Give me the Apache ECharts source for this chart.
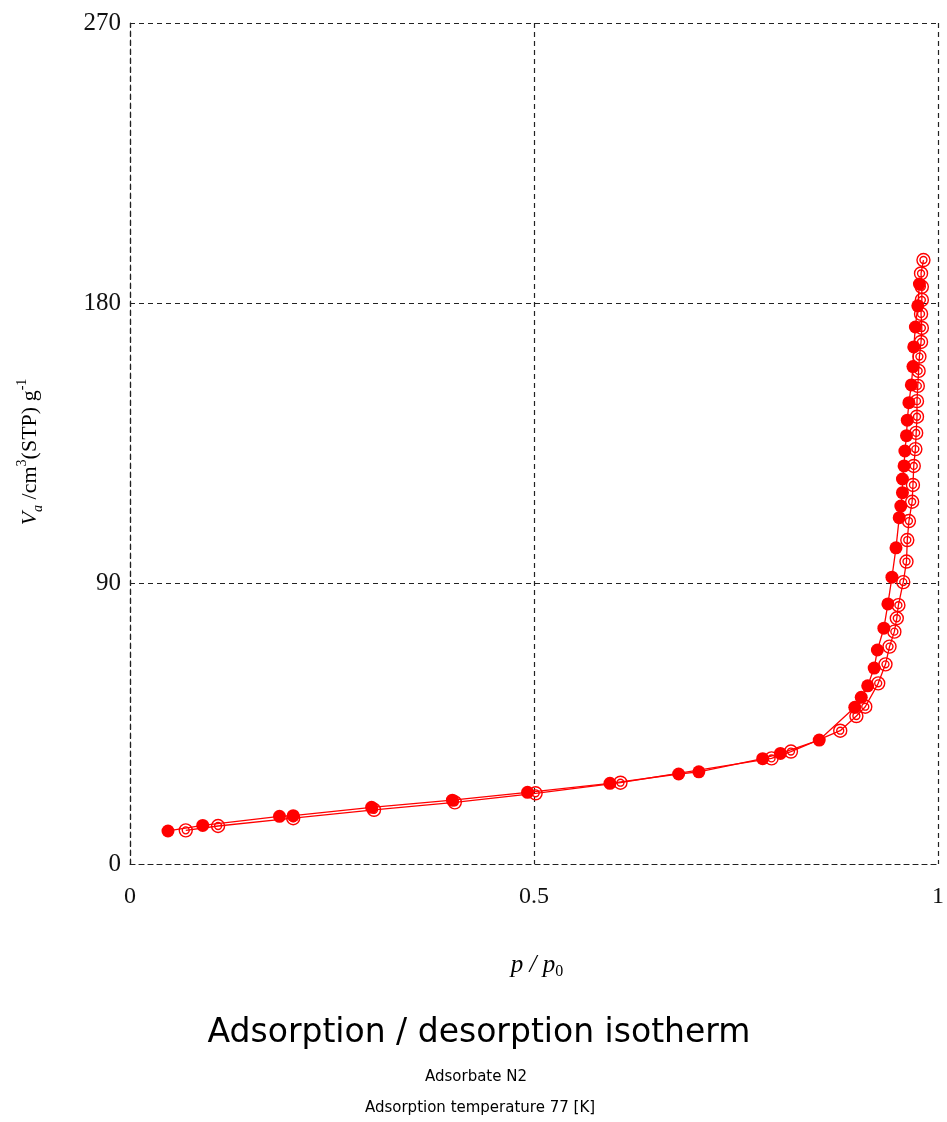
<!DOCTYPE html>
<html>
<head>
<meta charset="utf-8">
<script src="https://cdn.jsdelivr.net/npm/echarts@6/dist/echarts.min.js"></script>
<style>
html,body{margin:0;padding:0;background:#fff;}
#c{width:947px;height:1122px;}
</style>
</head>
<body>
<div id="c"></div>
<script>
// Adsorption branch (filled circles): relative pressure p/p0 and volume Va
var adsP = [0.047,0.090,0.185,0.202,0.299,0.399,0.492,0.594,0.679,0.704,0.783,0.805,0.853,0.897,0.905,0.913,0.921,0.925,0.933,0.938,0.943,0.948,0.952,0.954,0.956,0.956,0.958,0.959,0.961,0.962,0.964,0.967,0.969,0.970,0.972,0.975,0.977];
var adsV = [10.6,12.4,15.3,15.5,18.2,20.5,23.0,25.9,28.9,29.6,33.8,35.5,39.8,50.3,53.5,57.2,62.9,68.7,75.7,83.5,92.1,101.5,111.2,114.9,119.2,123.6,127.8,132.6,137.5,142.5,148.1,153.8,159.7,166.0,172.4,179.2,186.2];
// Desorption branch (double open circles), from high to low pressure
var desP = [0.982,0.979,0.980,0.980,0.979,0.980,0.979,0.977,0.976,0.975,0.974,0.974,0.973,0.972,0.970,0.969,0.968,0.964,0.962,0.961,0.957,0.951,0.949,0.946,0.940,0.935,0.926,0.910,0.899,0.879,0.818,0.794,0.607,0.502,0.402,0.302,0.202,0.109,0.069];
var desV = [193.9,189.6,185.3,181.1,176.6,172.1,167.6,162.9,158.3,153.5,148.6,143.6,138.4,133.2,127.8,121.7,116.3,110.1,104.0,97.1,90.5,83.1,78.9,74.6,69.8,64.1,58.0,50.5,47.5,42.8,36.1,33.9,26.1,22.7,19.8,17.4,14.7,12.2,10.8];
var xTicks = [0, 0.5, 1];
var yTicks = [0, 90, 180, 270];

function pairs(a, b){ return a.map(function(v,i){ return [v, b[i]]; }); }

var red = '#ff0000';
var ringPath = 'path://M0,-6A6,6 0 1,1 0,6A6,6 0 1,1 0,-6Z M0,-3.2A3.2,3.2 0 1,1 0,3.2A3.2,3.2 0 1,1 0,-3.2Z';

var chart = echarts.init(document.getElementById('c'), null, {renderer:'canvas'});
var dashed = {color:'#222', type:[5,4], width:1.2};
var serif = 'Liberation Serif';
chart.setOption({
  animation:false,
  backgroundColor:'#fff',
  grid:{left:130, right:7, top:23, bottom:258, containLabel:false},
  xAxis:{
    type:'value', min:xTicks[0], max:xTicks[xTicks.length-1], interval:0.5,
    axisLine:{show:true, lineStyle:dashed},
    axisTick:{show:false},
    axisLabel:{show:true, margin:21, fontFamily:serif, fontSize:24, color:'#111',
      formatter:function(v){ return xTicks.indexOf(v)>=0 ? String(v) : ''; }},
    splitLine:{show:true, lineStyle:dashed}
  },
  yAxis:{
    type:'value', min:yTicks[0], max:yTicks[yTicks.length-1], interval:90,
    axisLine:{show:true, lineStyle:dashed},
    axisTick:{show:false},
    axisLabel:{show:true, margin:9, fontFamily:serif, fontSize:25, color:'#111'},
    splitLine:{show:true, lineStyle:dashed}
  },
  series:[
    {
      type:'line', name:'adsorption', data:pairs(adsP, adsV),
      symbol:'circle', symbolSize:13,
      itemStyle:{color:red},
      lineStyle:{color:red, width:1.3},
      z:3
    },
    {
      type:'line', name:'desorption', data:pairs(desP, desV),
      symbol:ringPath, symbolSize:13,
      itemStyle:{color:'rgba(255,255,255,0)', borderColor:red, borderWidth:1.4},
      lineStyle:{color:red, width:1.3},
      z:4
    }
  ],
  graphic:[
    {type:'text', x:30, y:452, rotation:Math.PI/2,
      style:{text:'{i|V}{sub|a}{n| /cm}{sup|3}{n|(STP) g}{sup|-1}', align:'center', verticalAlign:'middle',
        rich:{
          i:{fontFamily:serif, fontStyle:'italic', fontSize:22, color:'#111', lineHeight:30},
          n:{fontFamily:serif, fontSize:22, color:'#111', lineHeight:30},
          sub:{fontFamily:serif, fontStyle:'italic', fontSize:14, color:'#111', lineHeight:14, verticalAlign:'bottom'},
          sup:{fontFamily:serif, fontSize:14, color:'#111', lineHeight:14, verticalAlign:'top'}
        }}},
    {type:'text', x:537, y:965,
      style:{text:'{i|p / p}{sub|0}', align:'center', verticalAlign:'middle',
        rich:{
          i:{fontFamily:serif, fontStyle:'italic', fontSize:25, color:'#111', lineHeight:30},
          sub:{fontFamily:serif, fontSize:16, color:'#111', lineHeight:16, verticalAlign:'bottom'}
        }}},
    {type:'text', x:479, y:1033,
      style:{text:'Adsorption / desorption isotherm', align:'center', verticalAlign:'middle',
        font:'33px "DejaVu Sans"', fill:'#000'}},
    {type:'text', x:476, y:1077,
      style:{text:'Adsorbate N2', align:'center', verticalAlign:'middle',
        font:'15px "DejaVu Sans"', fill:'#000'}},
    {type:'text', x:480, y:1108,
      style:{text:'Adsorption temperature 77 [K]', align:'center', verticalAlign:'middle',
        font:'15px "DejaVu Sans"', fill:'#000'}}
  ]
});
</script>
</body>
</html>
